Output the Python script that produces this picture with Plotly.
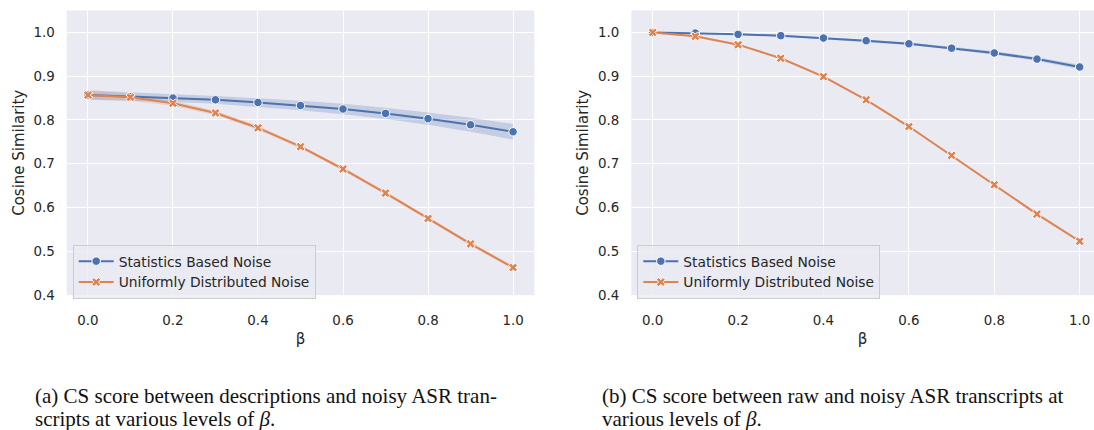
import plotly.graph_objects as go

beta = [0.0, 0.1, 0.2, 0.3, 0.4, 0.5, 0.6, 0.7, 0.8, 0.9, 1.0]

# Panel (a): descriptions vs noisy ASR transcripts
a_stat = [0.857, 0.853, 0.850, 0.846, 0.840, 0.833, 0.825, 0.815, 0.803, 0.789, 0.773]
a_stat_ci = [0.011, 0.010, 0.009, 0.009, 0.010, 0.011, 0.012, 0.013, 0.014, 0.016, 0.018]
a_unif = [0.857, 0.852, 0.838, 0.816, 0.782, 0.739, 0.688, 0.633, 0.575, 0.517, 0.463]
a_unif_ci = [0.010, 0.008, 0.006, 0.005, 0.005, 0.004, 0.004, 0.004, 0.004, 0.004, 0.004]

# Panel (b): raw vs noisy ASR transcripts
b_stat = [1.000, 0.9985, 0.9955, 0.9925, 0.987, 0.981, 0.974, 0.964, 0.953, 0.939, 0.921]
b_stat_ci = [0.001, 0.001, 0.002, 0.002, 0.002, 0.003, 0.003, 0.003, 0.004, 0.004, 0.005]
b_unif = [1.000, 0.991, 0.972, 0.941, 0.899, 0.846, 0.785, 0.719, 0.652, 0.585, 0.523]
b_unif_ci = [0.001, 0.002, 0.002, 0.002, 0.002, 0.002, 0.002, 0.003, 0.003, 0.003, 0.003]

y_ticks = [0.4, 0.5, 0.6, 0.7, 0.8, 0.9, 1.0]
x_ticks = [0.0, 0.2, 0.4, 0.6, 0.8, 1.0]

series_names = ["Statistics Based Noise", "Uniformly Distributed Noise"]
caption_a = ["(a) CS score between descriptions and noisy ASR tran-",
             "scripts at various levels of <i>β</i>."]
caption_b = ["(b) CS score between raw and noisy ASR transcripts at",
             "various levels of <i>β</i>."]

BLUE = "#4C72B0"
ORANGE = "#DD8452"
BAND = {BLUE: "rgba(76,114,176,0.24)", ORANGE: "rgba(221,132,82,0.22)"}
BG = "#EAEAF2"
TICKFONT = dict(family="DejaVu Sans", size=13.4, color="#262626")
LEGFONT = dict(family="DejaVu Sans", size=13.8, color="#262626")
LABELFONT = dict(family="DejaVu Sans", size=15, color="#262626")
CAPFONT = dict(family="Liberation Serif", size=21, color="#111111")

W, H = 1094, 430


def px(x):
    return x / W


def py(y):
    return (H - y) / H


fig = go.Figure()

panels = [
    ("x", "y", "legend", a_stat, a_stat_ci, a_unif, a_unif_ci),
    ("x2", "y2", "legend2", b_stat, b_stat_ci, b_unif, b_unif_ci),
]

for xa, ya, lg, s, sci, u, uci in panels:
    for vals, ci, color in ((s, sci, BLUE), (u, uci, ORANGE)):
        upper = [v + c for v, c in zip(vals, ci)]
        lower = [v - c for v, c in zip(vals, ci)]
        fig.add_trace(go.Scatter(
            x=beta + beta[::-1], y=upper + lower[::-1],
            fill="toself", fillcolor=BAND[color], line=dict(width=0),
            mode="lines", hoverinfo="skip", showlegend=False,
            xaxis=xa, yaxis=ya))
    fig.add_trace(go.Scatter(
        x=beta, y=s, mode="lines+markers", name=series_names[0],
        line=dict(color=BLUE, width=2),
        marker=dict(symbol="circle", size=8.5, color=BLUE, line=dict(color="white", width=1)),
        xaxis=xa, yaxis=ya, legend=lg))
    fig.add_trace(go.Scatter(
        x=beta, y=u, mode="lines+markers", name=series_names[1],
        line=dict(color=ORANGE, width=2),
        marker=dict(symbol="x", size=8, color=ORANGE, line=dict(color="white", width=1)),
        xaxis=xa, yaxis=ya, legend=lg))

ydom = [py(300.7), py(10.7)]
common_x = dict(tickvals=x_ticks, ticktext=[f"{t:.1f}" for t in x_ticks],
                showgrid=True, gridcolor="white", gridwidth=1.2, zeroline=False,
                showline=False, ticks="", tickfont=TICKFONT, ticklabelstandoff=15,
                title=dict(text="β", font=LABELFONT, standoff=6))
common_y = dict(tickvals=y_ticks, ticktext=[f"{t:.1f}" for t in y_ticks],
                range=[0.4, 1.05], showgrid=True, gridcolor="white", gridwidth=1.2,
                zeroline=False, showline=False, ticks="", tickfont=TICKFONT,
                ticklabelstandoff=11,
                title=dict(text="Cosine Similarity", font=LABELFONT, standoff=5))

legend_common = dict(xanchor="left", yanchor="top", bgcolor="rgba(234,234,242,0.8)",
                     bordercolor="#CCCCCC", borderwidth=1, font=LEGFONT,
                     tracegroupgap=0, itemwidth=35)

fig.update_layout(
    width=W, height=H,
    margin=dict(l=0, r=0, t=0, b=0),
    paper_bgcolor="white", plot_bgcolor=BG,
    xaxis=dict(domain=[px(66.7), px(534.3)], range=[-0.05, 1.05], anchor="y", **common_x),
    yaxis=dict(domain=ydom, anchor="x", **common_y),
    xaxis2=dict(domain=[px(631.3), 1.0], range=[-0.05, 1.0335], anchor="y2", **common_x),
    yaxis2=dict(domain=ydom, anchor="x2", **common_y),
    legend=dict(x=px(72.7), y=py(249.3), **legend_common),
    legend2=dict(x=px(637.3), y=py(249.3), **legend_common),
    showlegend=True,
)

for lines, x0 in ((caption_a, 34), (caption_b, 600.7)):
    for i, line in enumerate(lines):
        fig.add_annotation(text=line, xref="paper", yref="paper",
                           x=px(x0), y=py(390 + i * 23.4),
                           xanchor="left", yanchor="top", align="left", showarrow=False,
                           borderpad=0, font=CAPFONT)

# remove the browser's default 8px body margin so the figure fills the window
fig.write_html("out.html",
               config={"displayModeBar": False},
               post_script="document.body.style.margin='0';document.body.style.overflow='hidden';")
